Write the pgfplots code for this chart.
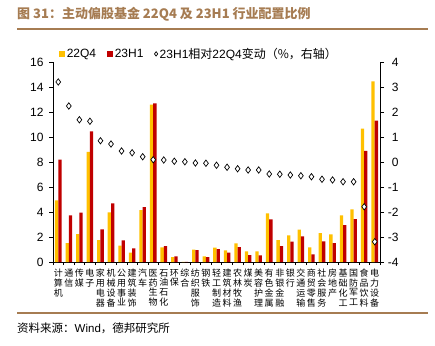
\documentclass[border=0pt]{standalone}
\usepackage{pgfplots}
\pgfplotsset{compat=1.18}
\usepackage{fontspec}
\setmainfont{Liberation Sans}
\newfontfamily\cjk{Noto Sans CJK SC}
\definecolor{cA}{RGB}{255,192,0}
\definecolor{cB}{RGB}{192,0,0}
\definecolor{tbrown}{RGB}{166,124,82}
\begin{document}
\begin{tikzpicture}
\useasboundingbox (0pt,0pt) rectangle (435pt,345pt);
\node[anchor=west, text=tbrown, font=\cjk\bfseries\fontsize{13}{15}\selectfont, inner sep=0pt] at (17pt,331pt) {图 31：主动偏股基金 22Q4 及 23H1 行业配置比例};
\draw[tbrown, line width=1.5pt] (17pt,316pt) -- (428pt,316pt);
\draw[tbrown, line width=1.5pt] (17pt,32pt) -- (428pt,32pt);
\node[anchor=west, font=\fontsize{11.5}{13}\selectfont, inner sep=0pt] at (17pt,17pt) {{\cjk 资料来源：}Wind{\cjk ，德邦研究所}};
\begin{axis}[
  at={(53pt,83pt)}, anchor=south west, scale only axis,
  width=327pt, height=200pt,
  xmin=-0.5, xmax=30.5, ymin=0, ymax=16,
  ytick={0,2,...,16},
  axis y line*=left, axis x line*=bottom,
  axis line style={line width=0.6pt, black},
  tick style={line width=0.6pt, black},
  tick align=outside,
  major tick length=4pt,
  minor tick length=3pt,
  ybar=0pt, bar width=3.3pt,
  xtick={0,...,30},
  major x tick style={draw=none},
  minor xtick={-0.5,0.5,...,30.5},
  xticklabels={{计\\算\\机},{通\\信},{传\\媒},{电\\子},{家\\用\\电\\器},{机\\械\\设\\备},{公\\用\\事\\业},{建\\筑\\装\\饰},{汽\\车},{医\\药\\生\\物},{石\\油\\石\\化},{环\\保},{综\\合},{纺\\织\\服\\饰},{钢\\铁},{轻\\工\\制\\造},{建\\筑\\材\\料},{农\\林\\牧\\渔},{煤\\炭},{美\\容\\护\\理},{有\\色\\金\\属},{非\\银\\金\\融},{银\\行},{交\\通\\运\\输},{商\\贸\\零\\售},{社\\会\\服\\务},{房\\地\\产},{基\\础\\化\\工},{国\\防\\军\\工},{食\\品\\饮\\料},{电\\力\\设\\备}},
  xticklabel style={font=\cjk\fontsize{9}{9.8}\selectfont, align=center, anchor=north, inner sep=0pt, yshift=-3pt},
  yticklabel style={font=\fontsize{12}{14}\selectfont, xshift=-2pt},
  /pgf/number format/assume math mode=true,
]
\addplot[fill=cA, draw=none] coordinates {
(0,4.93) (1,1.52) (2,2.24) (3,8.80) (4,1.76) (5,3.97) (6,1.31) (7,0.75) (8,4.16) (9,12.59)
(10,1.17) (11,0.40) (12,0.01) (13,0.99) (14,0.45) (15,1.15) (16,0.93) (17,1.49) (18,0.85) (19,0.85)
(20,3.89) (21,1.76) (22,2.13) (23,2.59) (24,1.17) (25,2.32) (26,2.21) (27,3.73) (28,4.21) (29,10.67) (30,14.45)};
\addplot[fill=cB, draw=none] coordinates {
(0,8.19) (1,3.73) (2,3.95) (3,10.45) (4,2.61) (5,4.69) (6,1.73) (7,1.09) (8,4.40) (9,12.69)
(10,1.28) (11,0.45) (12,0.02) (13,0.96) (14,0.40) (15,1.03) (16,0.75) (17,1.20) (18,0.56) (19,0.53)
(20,3.41) (21,1.28) (22,1.63) (23,2.05) (24,0.61) (25,1.65) (26,1.52) (27,2.96) (28,3.44) (29,8.88) (30,11.31)};
\end{axis}
\begin{axis}[
  at={(53pt,83pt)}, anchor=south west, scale only axis,
  width=327pt, height=200pt,
  xmin=-0.5, xmax=30.5, ymin=-4, ymax=4,
  ytick={-4,-3,...,4},
  axis y line*=right, axis x line=none,
  axis line style={line width=0.6pt, black},
  tick style={line width=0.6pt, black},
  tick align=outside, major tick length=4pt,
  yticklabel style={font=\fontsize{12}{14}\selectfont, text width=11pt, align=right},
  /pgf/number format/assume math mode=true,
  legend style={draw=none, fill=none, at={(0,1)}, anchor=south west, xshift=6pt, yshift=0pt, inner sep=0pt,
    font=\fontsize{12}{14}\selectfont, /tikz/every even column/.append style={column sep=9pt}},
  legend columns=3, legend cell align=left,
]
\addlegendimage{legend image code/.code={\fill[cA] (0pt,-2.6pt) rectangle (5.2pt,2.6pt);}}
\addlegendentry{22Q4}
\addlegendimage{legend image code/.code={\fill[cB] (0pt,-2.6pt) rectangle (5.2pt,2.6pt);}}
\addlegendentry{23H1}
\addplot[only marks, mark=diamond*, mark size=3.2pt, mark options={fill=white, draw=black, line width=0.7pt},
  legend image code/.code={\draw[mark=diamond*, mark size=2.2pt, mark options={fill=white, draw=black, line width=0.7pt}] plot coordinates {(3pt,0pt)};}] coordinates {
(0,3.20) (1,2.24) (2,1.69) (3,1.63) (4,0.85) (5,0.72) (6,0.44) (7,0.37) (8,0.21) (9,0.09)
(10,0.08) (11,0.03) (12,0.01) (13,-0.04) (14,-0.05) (15,-0.13) (16,-0.21) (17,-0.27) (18,-0.32) (19,-0.32)
(20,-0.48) (21,-0.49) (22,-0.52) (23,-0.55) (24,-0.59) (25,-0.69) (26,-0.72) (27,-0.79) (28,-0.79) (29,-1.79) (30,-3.19)};
\addlegendentry{23H1{\cjk 相对}22Q4{\cjk 变动（\%，右轴）}}
\end{axis}
\end{tikzpicture}
\end{document}
